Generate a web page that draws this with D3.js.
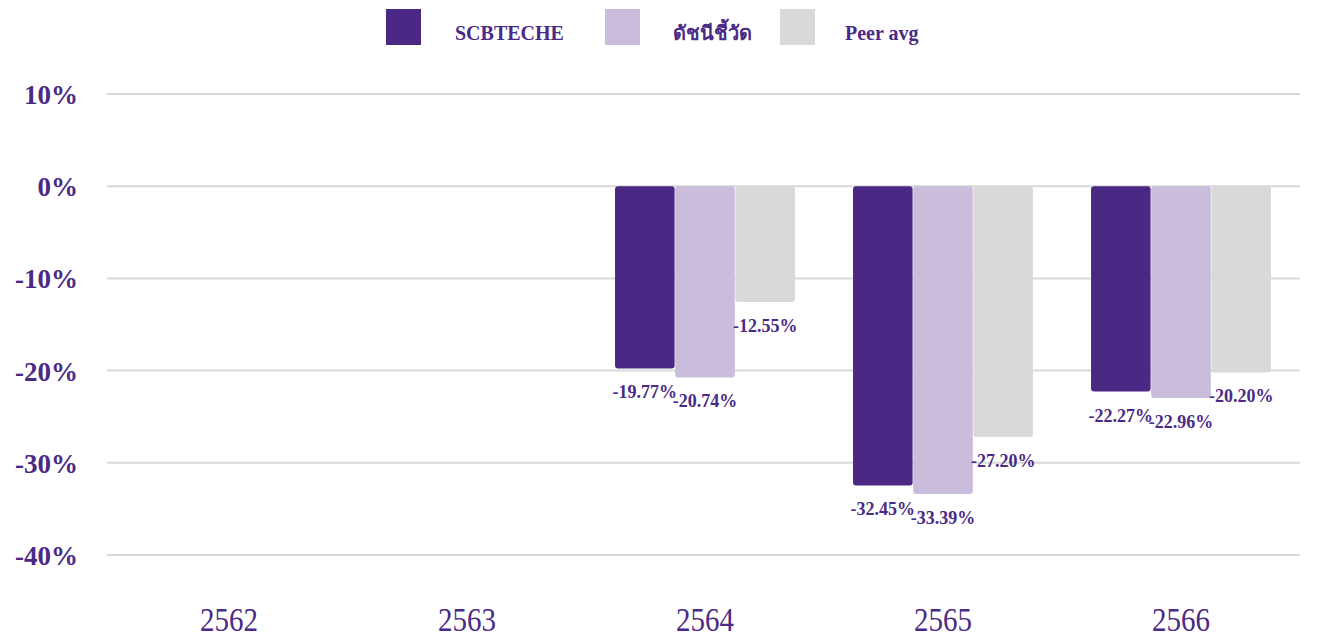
<!DOCTYPE html>
<html>
<head>
<meta charset="utf-8">
<script src="https://cdn.jsdelivr.net/npm/d3@7"></script>
<style>
  body { margin: 0; background: #fff; }
  text { font-family: "Liberation Serif", "Times New Roman", serif; }
</style>
</head>
<body>
<svg id="chart"></svg>
<script>
// data
const years = ["2562", "2563", "2564", "2565", "2566"];
const seriesNames = ["SCBTECHE", "ดัชนีชี้วัด", "Peer avg"];
const fundValues = [null, null, -19.77, -32.45, -22.27];
const benchValues = [null, null, -20.74, -33.39, -22.96];
const peerValues = [null, null, -12.55, -27.20, -20.20];
const yTicks = [10, 0, -10, -20, -30, -40];

const colors = ["#4b2883", "#c9bddb", "#d9d9d9"];
const textColor = "#4a2a86";

const width = 1317, height = 638;
const svg = d3.select("#chart").attr("width", width).attr("height", height);

const rows = [];
years.forEach((y, i) => {
    [fundValues, benchValues, peerValues].forEach((arr, j) => {
        if (arr[i] !== null) rows.push({year: y, series: seriesNames[j], idx: j, value: arr[i]});
    });
});

const x = d3.scaleBand().domain(years).range([110, 1300]).paddingInner(0.244).paddingOuter(0.122);
const x1 = d3.scaleBand().domain(seriesNames).range([0, x.bandwidth()]).paddingInner(0.01);
const y = d3.scaleLinear().domain([-40, 10]).range([555, 94]);

// gridlines
svg.append("g").selectAll("line").data(yTicks).join("line")
    .attr("x1", 107).attr("x2", 1300)
    .attr("y1", d => y(d)).attr("y2", d => y(d))
    .attr("stroke", "#d9d9d9").attr("stroke-width", 2);

// y axis labels
const yAxis = svg.append("g").attr("transform", "translate(78,0)")
    .call(d3.axisLeft(y).tickValues(yTicks).tickSize(0).tickPadding(0).tickFormat(d => d + "%"));
yAxis.select(".domain").remove();
yAxis.selectAll("text")
    .attr("fill", textColor).attr("font-size", 27).attr("font-weight", "bold")
    .attr("font-family", "Liberation Serif, serif").attr("dy", "0.35em");

// x axis labels
const xAxis = svg.append("g").attr("transform", "translate(0,602)")
    .call(d3.axisBottom(x).tickSize(0).tickPadding(0));
xAxis.select(".domain").remove();
xAxis.selectAll("text")
    .attr("fill", textColor).attr("font-size", 34)
    .attr("font-family", "Liberation Serif, serif")
    .attr("dy", "0.85em")
    .attr("textLength", 58).attr("lengthAdjust", "spacingAndGlyphs");

// bars
const bars = svg.append("g");
bars.selectAll("rect").data(rows).join("rect")
    .attr("x", d => x(d.year) + x1(d.series))
    .attr("width", x1.bandwidth())
    .attr("y", d => y(Math.max(0, d.value)))
    .attr("height", d => Math.abs(y(d.value) - y(0)))
    .attr("rx", 3)
    .attr("fill", d => colors[d.idx]);

// value labels
bars.selectAll("text").data(rows).join("text")
    .attr("x", d => x(d.year) + x1(d.series) + x1.bandwidth() / 2)
    .attr("y", d => y(d.value) + 30)
    .attr("text-anchor", "middle")
    .attr("fill", textColor).attr("font-size", 18).attr("font-weight", "bold")
    .text(d => d.value.toFixed(2) + "%");

// legend
const legendX = [386, 605, 780];
const legend = svg.append("g").selectAll("g").data(seriesNames).join("g")
    .attr("transform", (d, i) => `translate(${legendX[i]},9)`);
legend.append("rect").attr("width", 35).attr("height", 36).attr("fill", (d, i) => colors[i]);
legend.append("text")
    .attr("x", (d, i) => [69, 68, 65][i]).attr("y", 31)
    .attr("fill", textColor).attr("font-size", 20).attr("font-weight", "bold")
    .text(d => d);
</script>
</body>
</html>
